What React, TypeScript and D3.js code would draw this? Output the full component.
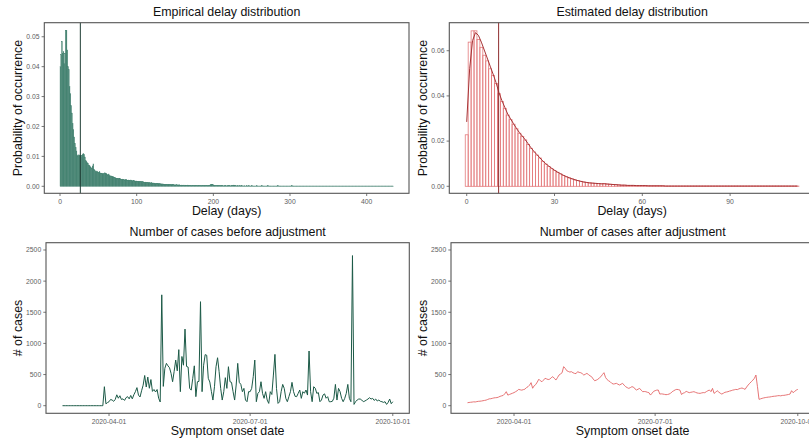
import React from "react";
import * as d3 from "d3";

const W = 809;
const H = 440;
const FONT = "'Liberation Sans', Arial, Helvetica, sans-serif";

// ---------- DATA ----------
// Empirical delay distribution: probability per delay day (0..434)
const empiricalDelayHead: number[] = [
  0.040, 0.044, 0.0485, 0.0445, 0.045, 0.041, 0.0445, 0.0522, 0.0522, 0.0456,
  0.040, 0.039, 0.0333, 0.031, 0.027, 0.0245, 0.021, 0.019, 0.0165, 0.0144,
  0.013, 0.0118, 0.0105, 0.0101, 0.0105, 0.0103, 0.0105, 0.0099, 0.0104, 0.0106,
  0.011, 0.0107, 0.0098, 0.0086, 0.0083, 0.0079, 0.0077, 0.0071, 0.0069, 0.0066,
  0.0062, 0.006, 0.0068, 0.0075, 0.0057, 0.0052, 0.0049, 0.0048, 0.0051, 0.0047,
  0.0046, 0.0049, 0.0045, 0.0043, 0.0044, 0.0042, 0.0041, 0.0043, 0.0045, 0.0044,
  0.0043, 0.004, 0.0038, 0.0041, 0.0036, 0.0034, 0.0035, 0.0033, 0.0032, 0.0032,
  0.003, 0.0029, 0.0028, 0.0027, 0.0026, 0.0027, 0.0025, 0.0027, 0.0026, 0.0024,
  0.0023, 0.0024, 0.0022, 0.0023, 0.0021, 0.0022, 0.0023, 0.0021, 0.002, 0.0021,
  0.002, 0.0019, 0.0021, 0.0019, 0.0018, 0.002, 0.0019, 0.0018, 0.0017, 0.0018,
  0.0017, 0.0016, 0.0017, 0.0016, 0.0015, 0.0016, 0.0015, 0.0014, 0.0015, 0.0014,
  0.0013, 0.0014, 0.0013, 0.0012, 0.0013, 0.0012, 0.0011, 0.0012, 0.0011, 0.0012,
  0.0011, 0.001, 0.0011, 0.001, 0.0009, 0.001, 0.0009, 0.001, 0.0009, 0.0008,
  0.0009, 0.0008, 0.0008, 0.0007, 0.0008, 0.0007, 0.0007, 0.0006, 0.0007, 0.0006,
  0.0006, 0.0007, 0.0006, 0.0005, 0.0006, 0.0005, 0.0006, 0.0005, 0.0005, 0.0004,
  0.0005, 0.0004, 0.0005, 0.0004, 0.0004, 0.0005, 0.0004, 0.0003, 0.0004, 0.0004,
  0.0003, 0.0004, 0.0003, 0.0004, 0.0003, 0.0003, 0.0004, 0.0003, 0.0003, 0.0003,
  0.0003, 0.0002, 0.0003, 0.0003, 0.0002, 0.0003, 0.0003, 0.0002, 0.0003, 0.0002,
  0.0003, 0.0002, 0.0003, 0.0002, 0.0002, 0.0003, 0.0002, 0.0002, 0.0003, 0.0002,
  0.0002, 0.0003, 0.0002, 0.0002, 0.0003, 0.0004, 0.0005, 0.0006, 0.0007, 0.0005,
  0.0004, 0.0003, 0.0002, 0.0002, 0.0002, 0.0003, 0.0002, 0.0002, 0.0002, 0.0002,
];
// days 210..434
const empiricalDelayTail: number[] = [
  0.0002, 0.0002, 0.0002, 0.0001, 0.0002, 0.0002, 0.0002, 0.0001, 0.0002, 0.0002,
  0.0002, 0.0002, 0.0001, 0.0002, 0.0002, 0.0003, 0.0004, 0.0003, 0.0002, 0.0002,
  0.0001, 0.0002, 0.0002, 0.0001, 0.0002, 0.0001, 0.0002, 0.0002, 0.0001, 0.0001,
  0.0002, 0.0001, 0.0001, 0.0002, 0.0001, 0.0001, 0.0002, 0.0001, 0.0001, 0.0001,
  0.0002, 0.0001, 0.0001, 0.0001, 0.0001, 0.0001, 0.0002, 0.0001, 0.0001, 0.0001,
  0.0001, 0.0001, 0.0001, 0.0002, 0.0001, 0.0001, 0.0001, 0.0001, 0.0001, 0.0001,
  0.0001, 0.0002, 0.0001, 0.0001, 0.0001, 0.0001, 0.0001, 0.0001, 0.0001, 0.0001,
  0.0001, 0.0001, 0.0001, 0.0001, 0.0002, 0.0001, 0.0001, 0.0001, 0.0001, 0.0001,
  0.0001, 0.0001, 0.0001, 0.0001, 0.0001, 0.0001, 0.0001, 0.0001, 0.0001, 0.0001,
  0.0001, 0.0001, 0.0002, 0.0001, 0.0001, 0.0001, 0.0001, 0.0001, 0.0001, 0.0001,
  0.0001, 0.0001, 0.0001, 0.0001, 0.0001, 0.0001, 0.0001, 0.0001, 0.0001, 0.0001,
  0.0001, 0.0001, 0.0001, 0.0001, 0.0001, 0.0001, 0.0001, 0.0001, 0.0001, 0.0001,
  0.0001, 0.0001, 0.0001, 0.0001, 0.0001, 0.0001, 0.0001, 0.0001, 0.0001, 0.0001,
  0.0001, 0.0001, 0.0001, 0.0001, 0.0001, 0.0001, 0.0001, 0.0001, 0.0001, 0.0001,
  0.0001, 0.0001, 0.0001, 0.0001, 0.0001, 0.0001, 0.0001, 0.0001, 0.0001, 0.0001,
  0.0001, 0.0001, 0.0001, 0.0001, 0.0001, 0.0001, 0.0001, 0.0001, 0.0001, 0.0001,
  0.0001, 0.0001, 0.0001, 0.0001, 0.0001, 0.0001, 0.0001, 0.0001, 0.0001, 0.0001,
  0.0001, 0.0001, 0.0001, 0.0001, 0.0001, 0.0001, 0.0001, 0.0001, 0.0001, 0.0001,
  0.0001, 0.0001, 0.0001, 0.0001, 0.0001, 0.0001, 0.0001, 0.0001, 0.0001, 0.0001,
  0.0001, 0.0001, 0.0001, 0.0001, 0.0001, 0.0001, 0.0001, 0.0001, 0.0001, 0.0001,
  0.0001, 0.0001, 0.0001, 0.0001, 0.0001, 0.0001, 0.0001, 0.0001, 0.0001, 0.0001,
  0.0001, 0.0001, 0.0001, 0.0001, 0.0001, 0.0001, 0.0001, 0.0001, 0.0001, 0.0001,
  0.0001, 0.0001, 0.0001, 0.0001, 0.0001,
];
const empiricalDelay: number[] = empiricalDelayHead.concat(empiricalDelayTail);

// Estimated delay distribution: bar heights per delay day (0..113)
const estimatedBars: number[] = [
  0.0228, 0.0638, 0.0688, 0.0688, 0.065, 0.0615, 0.058, 0.0555, 0.052, 0.049,
  0.0455, 0.041, 0.0375, 0.0345, 0.0315, 0.0295, 0.0275, 0.0255, 0.0235, 0.022,
  0.0205, 0.0185, 0.0168, 0.0152, 0.0138, 0.0125, 0.011, 0.0098, 0.0088, 0.0078,
  0.007, 0.0062, 0.0055, 0.0048, 0.0042, 0.0037, 0.0033, 0.0028, 0.0025, 0.0022,
  0.0019, 0.0017, 0.0015, 0.0014, 0.0013, 0.0012, 0.0011, 0.0012, 0.001, 0.0009,
  0.0008, 0.0007, 0.0006, 0.0005, 0.0005, 0.0004, 0.0004, 0.0004, 0.0003, 0.0003,
  0.0003, 0.0003, 0.0002, 0.0002, 0.0002, 0.0002, 0.0002, 0.0002, 0.0001, 0.0001,
  0.0001, 0.0001, 0.0001, 0.0001, 0.0001, 0.0001, 0.0001, 0.0001, 0.0001, 0.0001,
  0.0001, 0.0001, 0.0001, 0.0001, 0.0001, 0.0001, 0.0001, 0.0001, 0.0001, 0.0001,
  0.0001, 0.0001, 0.0001, 0.0001, 0.0001, 0.0001, 0.0001, 0.0001, 0.0001, 0.0001,
  0.0001, 0.0001, 0.0001, 0.0001, 0.0001, 0.0001, 0.0001, 0.0001, 0.0001, 0.0001,
  0.0001, 0.0001, 0.0001, 0.0001,
];

// Estimated delay distribution: smoothed curve per delay day (0..113)
const estimatedCurve: number[] = [
  0.0285, 0.052, 0.0645, 0.068, 0.0668, 0.0638, 0.0603, 0.0568, 0.0532, 0.0497,
  0.046, 0.0415, 0.038, 0.035, 0.032, 0.0298, 0.0277, 0.0256, 0.0238, 0.0222,
  0.0206, 0.0188, 0.017, 0.0154, 0.014, 0.0126, 0.0112, 0.01, 0.009, 0.008,
  0.0071, 0.0063, 0.0056, 0.0049, 0.0043, 0.0038, 0.0033, 0.0029, 0.0025, 0.0022,
  0.0019, 0.0017, 0.0015, 0.0014, 0.0013, 0.0012, 0.0011, 0.0011, 0.001, 0.0009,
  0.0008, 0.0007, 0.0006, 0.0005, 0.0005, 0.0004, 0.0004, 0.0004, 0.0003, 0.0003,
  0.0003, 0.0003, 0.0002, 0.0002, 0.0002, 0.0002, 0.0002, 0.0002, 0.0001, 0.0001,
  0.0001, 0.0001, 0.0001, 0.0001, 0.0001, 0.0001, 0.0001, 0.0001, 0.0001, 0.0001,
  0.0001, 0.0001, 0.0001, 0.0001, 0.0001, 0.0001, 0.0001, 0.0001, 0.0001, 0.0001,
  0.0001, 0.0001, 0.0001, 0.0001, 0.0001, 0.0001, 0.0001, 0.0001, 0.0001, 0.0001,
  0.0001, 0.0001, 0.0001, 0.0001, 0.0001, 0.0001, 0.0001, 0.0001, 0.0001, 0.0001,
  0.0001, 0.0001, 0.0001, 0.0001,
];

const empiricalMeanDelay = 26.5;
const estimatedMeanDelay = 10.9;

// Daily case counts by symptom onset date, starting 2020-03-02 (214 days to 2020-10-01)
const onsetStart = "2020-03-02";
const casesBefore: number[] = [
  0, 0, 0, 0, 0, 0, 0, 0, 0, 0,
  0, 0, 0, 0, 0, 0, 0, 0, 0, 0,
  0, 0, 0, 0, 0, 0, 0, 305, 30, 50,
  64, 100, 91, 70, 100, 175, 120, 160, 100, 110,
  85, 130, 145, 110, 165, 110, 175, 225, 290, 170,
  140, 240, 330, 485, 300, 460, 280, 420, 230, 260,
  220, 260, 120, 60, 1780, 310, 600, 680, 640, 610,
  520, 385, 550, 733, 560, 900, 225, 790, 650, 1230,
  630, 620, 280, 250, 440, 640, 145, 385, 390, 1670,
  225, 650, 820, 810, 440, 380, 230, 91, 305, 626,
  770, 546, 278, 91, 225, 450, 278, 626, 385, 375,
  225, 91, 332, 680, 375, 342, 225, 278, 91, 64,
  225, 225, 278, 466, 733, 64, 198, 225, 385, 198,
  118, 225, 91, 37, 225, 180, 492, 824, 278, 37,
  64, 225, 342, 278, 118, 64, 145, 225, 375, 225,
  150, 145, 198, 252, 118, 225, 200, 252, 171, 878,
  225, 64, 305, 280, 198, 210, 64, 91, 171, 190,
  120, 145, 64, 64, 70, 120, 342, 91, 278, 225,
  118, 64, 118, 198, 342, 118, 64, 2410, 21, 64,
  91, 107, 107, 91, 64, 75, 91, 107, 128, 107,
  118, 85, 107, 75, 91, 70, 64, 53, 64, 21,
  53, 107, 32, 64,
];
const casesAfter: number[] = [
  48, 52, 55, 58, 62, 60, 66, 70, 72, 75,
  80, 85, 90, 100, 110, 112, 118, 125, 128, 130,
  138, 150, 158, 165, 190, 225, 170, 180, 190, 200,
  210, 225, 240, 262, 255, 250, 258, 265, 290, 305,
  330, 370, 280, 320, 340, 380, 425, 400, 385, 410,
  440, 430, 420, 425, 450, 466, 440, 412, 450, 492,
  510, 530, 627, 600, 562, 550, 540, 546, 530, 519,
  515, 546, 535, 530, 515, 492, 505, 519, 500, 480,
  466, 430, 401, 410, 423, 445, 466, 500, 530, 455,
  420, 400, 385, 360, 348, 352, 359, 345, 332, 345,
  359, 330, 305, 290, 278, 290, 305, 300, 270, 252,
  265, 278, 250, 225, 228, 225, 215, 209, 171, 200,
  230, 241, 250, 252, 187, 190, 187, 182, 177, 180,
  187, 200, 225, 240, 255, 262, 258, 250, 180, 200,
  209, 230, 220, 209, 215, 220, 225, 215, 205, 200,
  198, 205, 210, 209, 225, 240, 252, 225, 278, 198,
  215, 241, 220, 200, 187, 200, 215, 220, 225, 235,
  241, 250, 255, 262, 258, 270, 278, 284, 275, 262,
  300, 332, 360, 385, 410, 439, 492, 305, 102, 110,
  118, 125, 130, 134, 138, 140, 145, 150, 152, 155,
  160, 162, 158, 165, 166, 170, 175, 180, 187, 241,
  209, 230, 250, 262,
];

// Tick labels
const empXTicks = [0, 100, 200, 300, 400];
const empYTicks = [0, 0.01, 0.02, 0.03, 0.04, 0.05];
const estXTicks = [0, 30, 60, 90];
const estYTicks = [0, 0.02, 0.04, 0.06];
const caseYTicks = [0, 500, 1000, 1500, 2000, 2500];
const dateTicks = ["2020-04-01", "2020-07-01", "2020-10-01"];

// ---------- COLORS ----------
const C_EMP = "#3f7f6d";
const C_EMP_LINE = "#1f3d34";
const C_EST_BAR = "#e47b7d";
const C_EST_CURVE = "#a63436";
const C_EST_LINE = "#8e2d2f";
const C_BEFORE = "#1c5a47";
const C_AFTER = "#e36567";
const C_AXIS = "#555555";
const C_TICKTXT = "#5e5e5e";

type Box = { x0: number; x1: number; y0: number; y1: number };
type Tick = { pos: number; label: string };

function Frame(props: {
  box: Box;
  title: string;
  xTitle: string;
  yTitle: string;
  yTitleX: number;
  xTicks: Tick[];
  yTicks: Tick[];
  children?: React.ReactNode;
}) {
  const { box, title, xTitle, yTitle, yTitleX, xTicks, yTicks, children } = props;
  const { x0, x1, y0, y1 } = box;
  const cx = (x0 + x1) / 2;
  const cy = (y0 + y1) / 2;
  return (
    <g>
      {children}
      <rect x={x0} y={y0} width={x1 - x0} height={y1 - y0} fill="none" stroke={C_AXIS} strokeWidth={1.1} />
      {xTicks.map((t, i) => (
        <g key={"x" + i}>
          <line x1={t.pos} x2={t.pos} y1={y1} y2={y1 + 2.7} stroke={C_AXIS} strokeWidth={0.8} />
          <text x={t.pos} y={y1 + 10.4} textAnchor="middle" fontSize={6.8} fill={C_TICKTXT}>
            {t.label}
          </text>
        </g>
      ))}
      {yTicks.map((t, i) => (
        <g key={"y" + i}>
          <line x1={x0 - 2.7} x2={x0} y1={t.pos} y2={t.pos} stroke={C_AXIS} strokeWidth={0.8} />
          <text x={x0 - 4.8} y={t.pos} dy="0.35em" textAnchor="end" fontSize={6.8} fill={C_TICKTXT}>
            {t.label}
          </text>
        </g>
      ))}
      <text x={cx} y={y0 - 6.4} textAnchor="middle" fontSize={12.4} fill="#111">
        {title}
      </text>
      <text x={cx} y={y1 + 21.3} textAnchor="middle" fontSize={12.4} fill="#111">
        {xTitle}
      </text>
      <text
        transform={`translate(${yTitleX},${cy}) rotate(-90)`}
        textAnchor="middle"
        fontSize={12.4}
        fill="#111"
      >
        {yTitle}
      </text>
    </g>
  );
}

export default function App() {
  // ---- Top-left: empirical ----
  const b1: Box = { x0: 44.3, x1: 409, y0: 22.7, y1: 193.3 };
  const x1s = d3.scaleLinear().domain([-20.5, 455.2]).range([b1.x0, b1.x1]);
  const y1s = d3.scaleLinear().domain([-0.00234, 0.0547]).range([b1.y1, b1.y0]);

  // ---- Top-right: estimated ----
  const b2: Box = { x0: 449.3, x1: 815, y0: 22.7, y1: 193.3 };
  const x2s = d3.scaleLinear().domain([-5.95, 119.0]).range([b2.x0, b2.x1]);
  const y2s = d3.scaleLinear().domain([-0.0031, 0.0724]).range([b2.y1, b2.y0]);

  // ---- Bottom: cases ----
  const start = d3.utcParse("%Y-%m-%d")(onsetStart) as Date;
  const dates = casesBefore.map((_, i) => d3.utcDay.offset(start, i));
  const lastDate = dates[dates.length - 1];
  const padMs = 0.05 * (lastDate.getTime() - start.getTime());
  const tDomain = [new Date(start.getTime() - padMs), new Date(lastDate.getTime() + padMs)];
  const b3: Box = { x0: 46, x1: 409.3, y0: 242.7, y1: 413.3 };
  const b4: Box = { x0: 451, x1: 814.3, y0: 242.7, y1: 413.3 };
  const x3s = d3.scaleUtc().domain(tDomain).range([b3.x0, b3.x1]);
  const x4s = d3.scaleUtc().domain(tDomain).range([b4.x0, b4.x1]);
  const yCs = d3.scaleLinear().domain([-122, 2617]).range([b3.y1, b3.y0]);

  const parseDay = d3.utcParse("%Y-%m-%d");

  const lineBefore = d3
    .line<number>()
    .x((_, i) => x3s(dates[i]))
    .y((d) => yCs(d))(casesBefore) as string;
  const lineAfter = d3
    .line<number>()
    .x((_, i) => x4s(dates[i]))
    .y((d) => yCs(d))(casesAfter) as string;
  const curvePath = d3
    .line<number>()
    .x((_, i) => x2s(i))
    .y((d) => y2s(d))(estimatedCurve) as string;

  const fmt2 = d3.format(".2f");

  return (
    <svg
      width={W}
      height={H}
      viewBox={`0 0 ${W} ${H}`}
      style={{ position: "absolute", left: 0, top: 0, background: "#fff", fontFamily: FONT }}
    >
      <rect x={0} y={0} width={W} height={H} fill="#fff" />

      <Frame
        box={b1}
        title="Empirical delay distribution"
        xTitle="Delay (days)"
        yTitle="Probability of occurrence"
        yTitleX={22.2}
        xTicks={empXTicks.map((v) => ({ pos: x1s(v), label: String(v) }))}
        yTicks={empYTicks.map((v) => ({ pos: y1s(v), label: fmt2(v) }))}
      >
        <g>
          {empiricalDelay.map((v, i) => (
            <rect
              key={i}
              x={x1s(i)}
              y={y1s(v)}
              width={x1s(i + 1) - x1s(i)}
              height={y1s(0) - y1s(v)}
              fill={C_EMP}
              stroke={C_EMP}
              strokeWidth={0.35}
            />
          ))}
        </g>
        <line
          x1={x1s(empiricalMeanDelay)}
          x2={x1s(empiricalMeanDelay)}
          y1={b1.y0}
          y2={b1.y1}
          stroke={C_EMP_LINE}
          strokeWidth={1}
        />
      </Frame>

      <Frame
        box={b2}
        title="Estimated delay distribution"
        xTitle="Delay (days)"
        yTitle="Probability of occurrence"
        yTitleX={427.2}
        xTicks={estXTicks.map((v) => ({ pos: x2s(v), label: String(v) }))}
        yTicks={estYTicks.map((v) => ({ pos: y2s(v), label: fmt2(v) }))}
      >
        <g>
          {estimatedBars.map((v, i) => (
            <rect
              key={i}
              x={x2s(i - 0.5)}
              y={y2s(v)}
              width={x2s(i + 0.5) - x2s(i - 0.5)}
              height={y2s(0) - y2s(v)}
              fill="none"
              stroke={C_EST_BAR}
              strokeWidth={0.8}
            />
          ))}
        </g>
        <path d={curvePath} fill="none" stroke={C_EST_CURVE} strokeWidth={1} />
        <line
          x1={x2s(estimatedMeanDelay)}
          x2={x2s(estimatedMeanDelay)}
          y1={b2.y0}
          y2={b2.y1}
          stroke={C_EST_LINE}
          strokeWidth={1}
        />
      </Frame>

      <Frame
        box={b3}
        title="Number of cases before adjustment"
        xTitle="Symptom onset date"
        yTitle="# of cases"
        yTitleX={22.2}
        xTicks={dateTicks.map((s) => ({ pos: x3s(parseDay(s) as Date), label: s }))}
        yTicks={caseYTicks.map((v) => ({ pos: yCs(v), label: String(v) }))}
      >
        <path d={lineBefore} fill="none" stroke={C_BEFORE} strokeWidth={1} strokeLinejoin="round" />
      </Frame>

      <Frame
        box={b4}
        title="Number of cases after adjustment"
        xTitle="Symptom onset date"
        yTitle="# of cases"
        yTitleX={427.2}
        xTicks={dateTicks.map((s) => ({ pos: x4s(parseDay(s) as Date), label: s }))}
        yTicks={caseYTicks.map((v) => ({ pos: yCs(v), label: String(v) }))}
      >
        <path d={lineAfter} fill="none" stroke={C_AFTER} strokeWidth={0.9} strokeLinejoin="round" />
      </Frame>
    </svg>
  );
}
